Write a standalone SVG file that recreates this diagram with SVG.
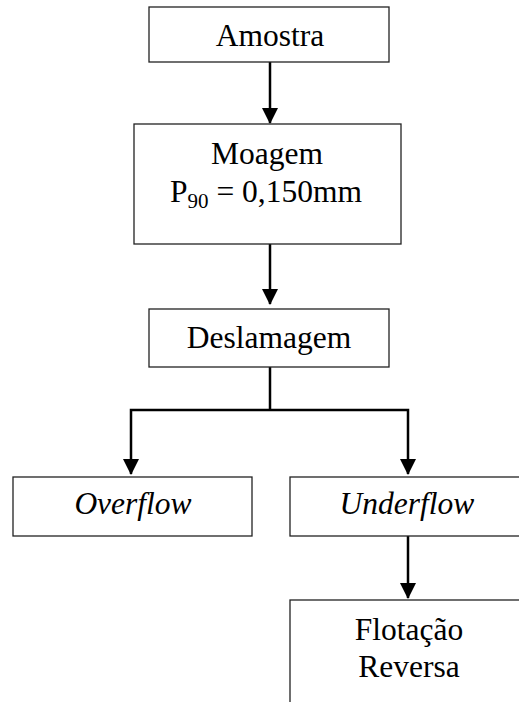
<svg xmlns="http://www.w3.org/2000/svg" width="519" height="702" viewBox="0 0 519 702">
<style>
.box{fill:#fff;stroke:#222;stroke-width:1.3}
.t{font-family:"Liberation Serif","Times New Roman",serif;font-size:31.5px;fill:#000;text-anchor:middle}
.i{font-style:italic}
.c{fill:none;stroke:#000;stroke-width:2.5;stroke-linejoin:miter}
.a{marker-end:url(#ah)}
.b{marker-start:url(#ah);marker-end:url(#ah)}
</style>
<defs>
<marker id="ah" markerUnits="userSpaceOnUse" markerWidth="16" markerHeight="16" viewBox="0 0 16 16" refX="15" refY="8" orient="auto-start-reverse">
<path d="M0,0 L16,8 L0,16 Z" fill="#000"/>
</marker>
</defs>
<rect width="519" height="702" fill="#fff"/>
<g id="connectors">
<line class="c a" x1="270" y1="62" x2="270" y2="123"/>
<line class="c a" x1="270" y1="244" x2="270" y2="304"/>
<line class="c" x1="270" y1="367" x2="270" y2="410"/>
<polyline class="c b" points="131,474 131,410 408,410 408,474"/>
<line class="c a" x1="408" y1="536" x2="408" y2="598"/>
</g>
<g id="amostra">
<rect class="box" x="149" y="7" width="240" height="55"/>
<text class="t" x="270" y="46">Amostra</text>
</g>
<g id="moagem">
<rect class="box" x="134" y="124" width="267" height="120"/>
<text class="t" x="267" y="164">Moagem</text>
<text class="t" x="266" y="202">P<tspan font-size="21" dy="6">90</tspan><tspan dy="-6"> = 0,150mm</tspan></text>
</g>
<g id="deslamagem">
<rect class="box" x="149" y="309" width="240" height="58"/>
<text class="t" x="269" y="348">Deslamagem</text>
</g>
<g id="overflow">
<rect class="box" x="13" y="477" width="239" height="59"/>
<text class="t i" x="133" y="514">Overflow</text>
</g>
<g id="underflow">
<rect class="box" x="290" y="477" width="240" height="59"/>
<text class="t i" x="407" y="514">Underflow</text>
</g>
<g id="flotacao">
<rect class="box" x="290" y="600" width="240" height="120"/>
<text class="t" x="409" y="640">Flotação</text>
<text class="t" x="409" y="677">Reversa</text>
</g>
</svg>
